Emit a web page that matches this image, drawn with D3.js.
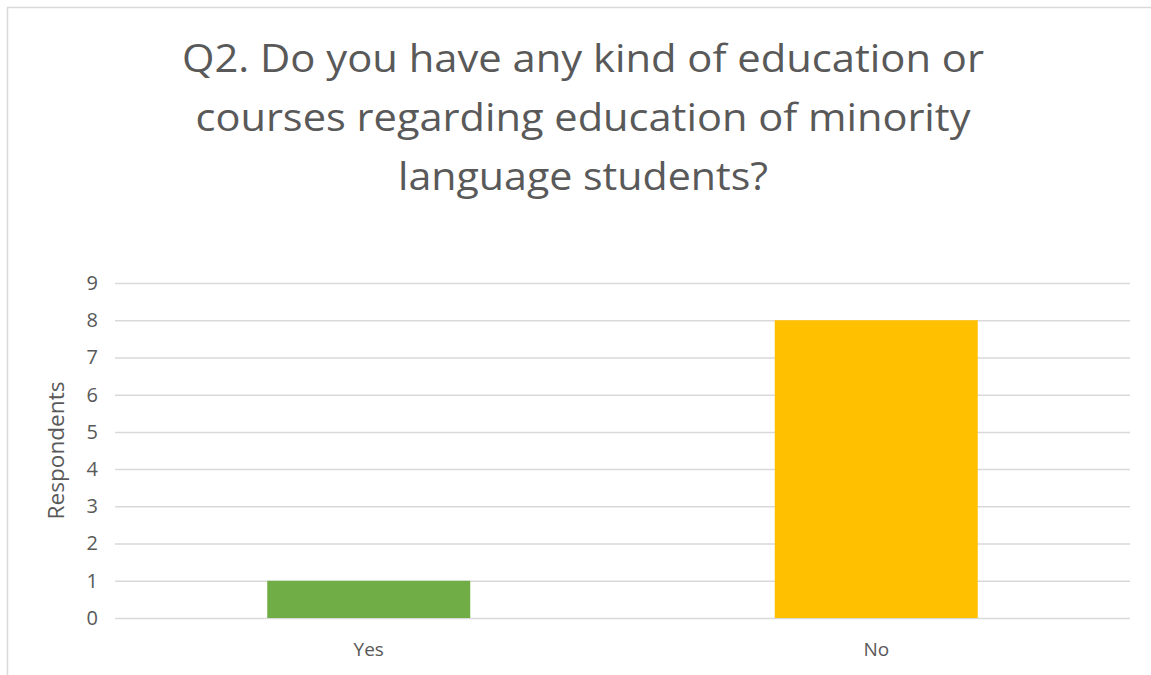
<!DOCTYPE html>
<html>
<head>
<meta charset="utf-8">
<script src="https://cdn.jsdelivr.net/npm/d3@7"></script>
<style>
  body { margin: 0; background: #fff; }
  svg text { font-family: "Open Sans", "Noto Sans", sans-serif; fill: #595959; }
</style>
</head>
<body>
<div id="chart"></div>
<script>
// chart data
let categories = ["Yes", "No"];
let respondents = [1, 8];
let barColors = ["#70AD47", "#FFC000"];
let yTicks = [0, 1, 2, 3, 4, 5, 6, 7, 8, 9];
let titleLines = [
	"Q2. Do you have any kind of education or",
	"courses regarding education of minority",
	"language students?"
];
let titleWidths = [802, 775, 370];

let panel = { width: 1151, height: 675 };
let plot = { left: 115, right: 1130, top: 283, bottom: 618 };

let svg = d3.select("#chart")
	.append("svg")
	.attr("width", panel.width)
	.attr("height", panel.height);

// chart frame (runs off the right/bottom edge like the screenshot)
svg.append("rect")
	.attr("x", 7.5)
	.attr("y", 7.5)
	.attr("width", 1160)
	.attr("height", 700)
	.attr("fill", "#fff")
	.attr("stroke", "#d9d9d9")
	.attr("stroke-width", 1.5);

// title
svg.append("g")
	.selectAll("text")
	.data(titleLines)
	.enter().append("text")
	.attr("x", 583)
	.attr("y", (d, i) => 72 + i * 59)
	.attr("text-anchor", "middle")
	.attr("font-size", 38)
	.attr("textLength", (d, i) => titleWidths[i])
	.attr("lengthAdjust", "spacingAndGlyphs")
	.text(d => d);

let x = d3.scaleBand()
	.domain(categories)
	.range([plot.left, plot.right])
	.paddingInner(0.6)
	.paddingOuter(0.3);

let y = d3.scaleLinear()
	.domain([0, 9])
	.range([plot.bottom, plot.top]);

// gridlines + y labels
let yAxis = svg.append("g")
	.attr("transform", "translate(" + plot.left + ",0)")
	.call(d3.axisLeft(y).tickValues(yTicks).tickSize(-(plot.right - plot.left)).tickPadding(17));
yAxis.select(".domain").remove();
yAxis.selectAll(".tick line")
	.attr("stroke", "#d9d9d9")
	.attr("stroke-width", 1.5);
yAxis.selectAll(".tick text")
	.attr("font-size", 20)
	.attr("fill", "#595959")
	.style("font-family", "'Open Sans', sans-serif");

// bars
svg.append("g")
	.selectAll("rect")
	.data(respondents)
	.enter().append("rect")
	.attr("x", (d, i) => x(categories[i]))
	.attr("y", d => y(d))
	.attr("width", x.bandwidth())
	.attr("height", d => y(0) - y(d))
	.attr("fill", (d, i) => barColors[i]);

// x labels
let xAxis = svg.append("g")
	.attr("transform", "translate(0," + plot.bottom + ")")
	.call(d3.axisBottom(x).tickSize(0).tickPadding(25));
xAxis.select(".domain").remove();
xAxis.selectAll(".tick text")
	.attr("font-size", 19)
	.attr("fill", "#595959")
	.style("font-family", "'Open Sans', sans-serif");

// y axis title
svg.append("text")
	.attr("transform", "translate(64," + ((plot.top + plot.bottom) / 2) + ") rotate(-90)")
	.attr("text-anchor", "middle")
	.attr("font-size", 21)
	.attr("textLength", 138)
	.attr("lengthAdjust", "spacingAndGlyphs")
	.text("Respondents");
</script>
</body>
</html>
